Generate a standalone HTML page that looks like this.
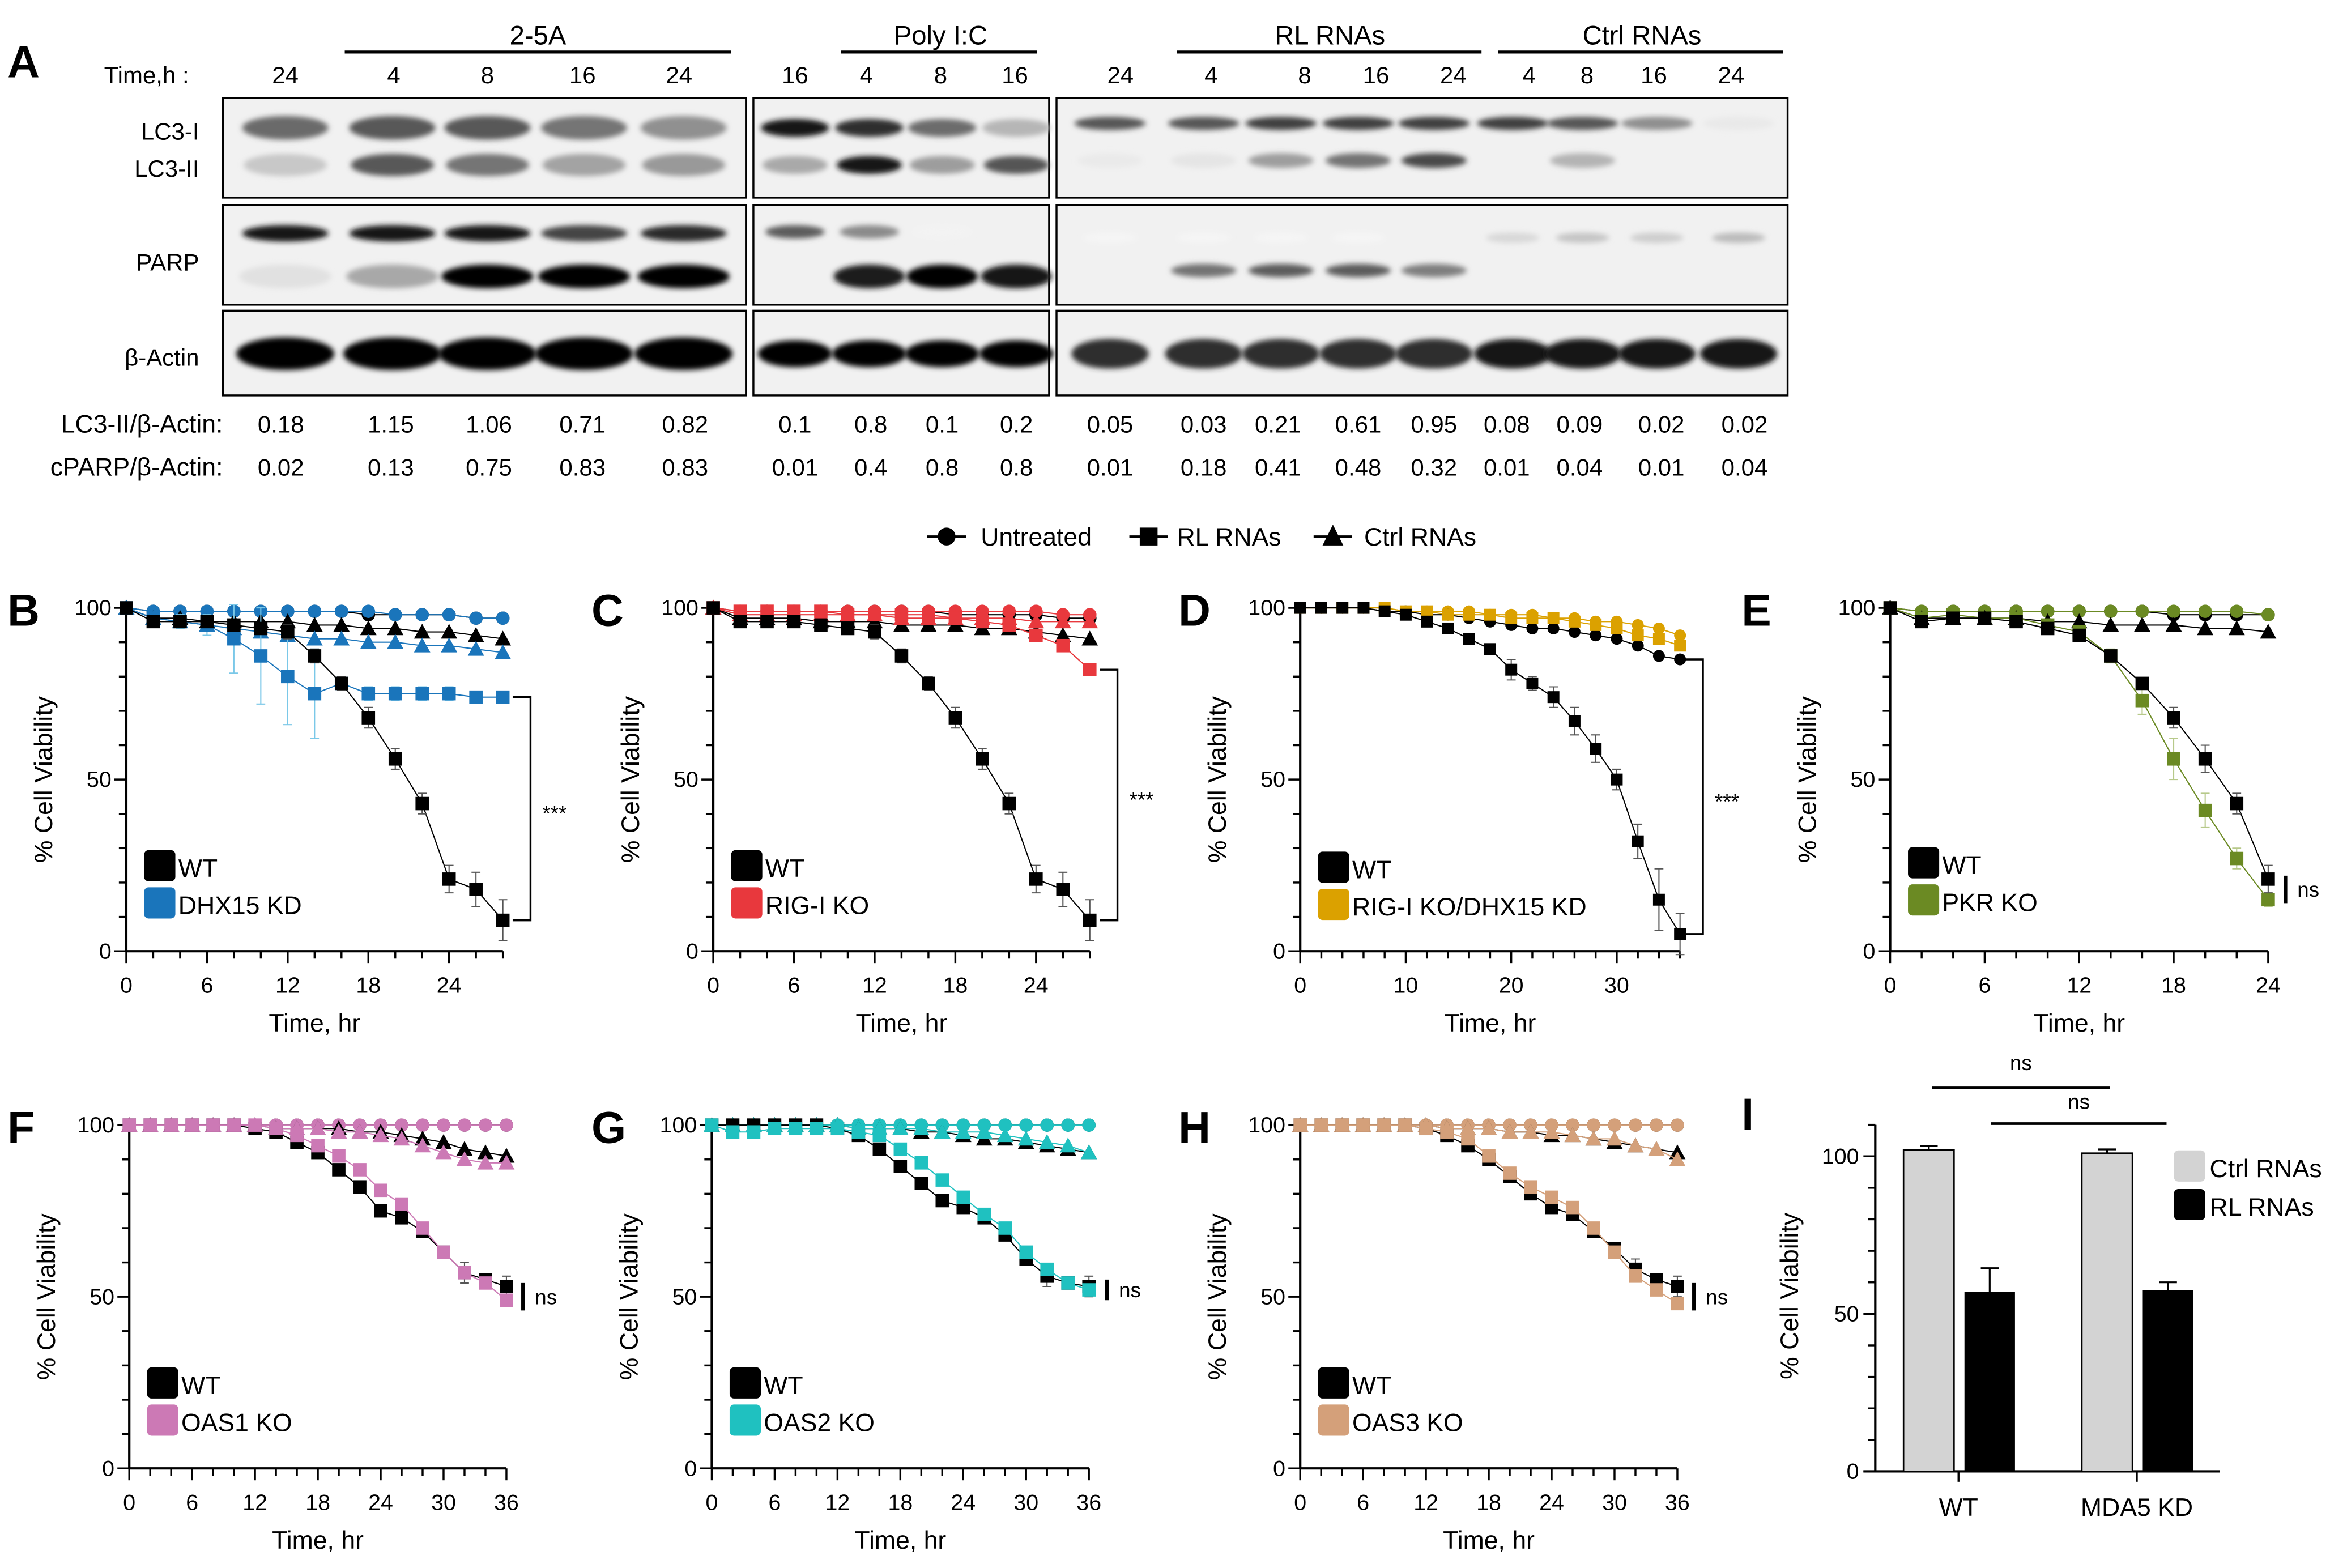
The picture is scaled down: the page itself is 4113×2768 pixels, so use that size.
<!DOCTYPE html>
<html><head><meta charset="utf-8">
<style>
html,body{margin:0;padding:0;background:#fff;}
svg{display:block;font-family:"Liberation Sans",sans-serif;}
</style></head>
<body>
<svg id="fig" width="4113" height="2768" viewBox="0 0 1568 1055" preserveAspectRatio="none" xmlns="http://www.w3.org/2000/svg">
<defs><filter id="blur" x="-20%" y="-60%" width="140%" height="220%"><feGaussianBlur stdDeviation="1.8"/></filter></defs>
</svg>
<script>
// ---------- Blot data ----------
const g1Lanes=["24","4","8","16","24"];
const g2Lanes=["16","4","8","16"];
const g3Lanes=["24","4","8","16","24","4","8","16","24"];
const g1LC3I=[0.8,0.9,0.9,0.75,0.6], g1LC3II=[0.3,0.9,0.75,0.5,0.55], g1PARP=[0.95,0.95,0.95,0.75,0.85], g1cPARP=[0.12,0.35,1,1,1];
const g2LC3I=[0.95,0.85,0.6,0.3], g2LC3II=[0.35,0.95,0.4,0.7], g2PARP=[0.7,0.5,0.05,0], g2cPARP=[0,0.9,1,0.95];
const g3LC3I=[0.75,0.75,0.85,0.85,0.85,0.85,0.75,0.5,0.1], g3LC3II=[0.1,0.12,0.45,0.65,0.85,0,0.35,0,0], g3PARP=[0.05,0.05,0.05,0.05,0,0.2,0.3,0.25,0.35], g3cPARP=[0,0.6,0.7,0.7,0.55,0,0,0,0];
const ratioLC3=["0.18","1.15","1.06","0.71","0.82","0.1","0.8","0.1","0.2","0.05","0.03","0.21","0.61","0.95","0.08","0.09","0.02","0.02"];
const ratioPARP=["0.02","0.13","0.75","0.83","0.83","0.01","0.4","0.8","0.8","0.01","0.18","0.41","0.48","0.32","0.01","0.04","0.01","0.04"];

// ---------- Viability data ----------
const tB=[0,2,4,6,8,10,12,14,16,18,20,22,24,26,28];
const B_wtRL=[100,96,96,96,95,94,93,86,78,68,56,43,21,18,9];
const B_kdRL=[100,97,96,95,91,86,80,75,78,75,75,75,75,74,74];
const B_wtU=[100,99,99,99,99,99,99,99,99,98,98,98,98,97,97];
const B_kdU=[100,99,99,99,99,99,99,99,99,99,98,98,98,97,97];
const B_wtC=[100,97,97,96,96,96,96,95,95,94,94,93,93,92,91];
const B_kdC=[100,97,96,95,94,93,92,91,91,90,90,89,89,88,87];
const C_koRL=[100,99,99,99,99,98,98,98,98,97,96,95,92,89,82];
const C_koU=[100,99,99,99,99,99,99,99,99,99,99,99,99,98,98];
const C_koC=[100,98,98,98,98,98,98,97,97,97,97,97,96,96,96];
const C_wtC=[100,97,97,97,96,96,96,95,95,95,94,94,93,92,91];
const tD=[0,2,4,6,8,10,12,14,16,18,20,22,24,26,28,30,32,34,36];
const D_wtRL=[100,100,100,100,99,98,96,94,91,88,82,78,74,67,59,50,32,15,5];
const D_wtU=[100,100,100,100,99,99,98,98,97,96,95,94,94,93,92,91,89,86,85];
const D_koRL=[100,100,100,100,100,99,99,98,98,98,97,97,97,96,95,94,92,91,89];
const D_koU=[100,100,100,100,100,99,99,99,99,98,98,98,97,97,96,96,95,94,92];
const tE=[0,2,4,6,8,10,12,14,16,18,20,22,24];
const E_wtRL=[100,96,97,97,96,94,92,86,78,68,56,43,21];
const E_koRL=[100,97,98,97,97,95,93,86,73,56,41,27,15];
const E_wtU=[100,99,99,99,99,99,99,99,99,98,98,98,98];
const E_koU=[100,99,99,99,99,99,99,99,99,99,99,99,98];
const E_wtC=[100,97,97,97,97,96,96,95,95,95,94,94,93];
const F_wtRL=[100,100,100,100,100,100,99,98,95,92,87,82,75,73,69,63,57,55,53];
const F_koRL=[100,100,100,100,100,100,100,99,97,94,91,87,81,77,70,63,57,54,49];
const F_U=[100,100,100,100,100,100,100,100,100,100,100,100,100,100,100,100,100,100,100];
const F_wtC=[100,100,100,100,100,100,100,99,99,99,99,98,98,97,96,95,93,92,91];
const F_koC=[100,100,100,100,100,100,100,99,99,99,98,98,97,96,94,92,90,89,89];
const G_wtRL=[100,100,100,100,100,100,99,97,93,88,83,78,76,73,68,61,56,54,53];
const G_koRL=[100,98,98,99,99,99,99,98,97,93,89,84,79,74,70,63,58,54,52];
const G_wtC=[100,100,100,100,100,100,100,99,99,99,98,98,97,96,96,95,94,93,92];
const G_koC=[100,100,100,100,100,100,100,99,99,99,99,98,98,98,97,96,95,94,92];
const H_wtRL=[100,100,100,100,100,100,99,97,94,90,85,80,76,74,69,64,58,55,53];
const H_koRL=[100,100,100,100,100,100,99,98,96,91,86,82,79,76,70,63,56,52,48];
const H_wtC=[100,100,100,100,100,100,100,99,99,99,98,98,97,97,96,95,94,93,92];
const H_koC=[100,100,100,100,100,100,100,99,99,99,98,98,98,97,96,96,94,93,90];

// ---------- Bar data (panel I) ----------
const barGroups=["WT","MDA5 KD"];
const barCtrl=[102,101];
const barRL=[57,57.5];
const barCtrlErr=[1.2,1.2];
const barRLErr=[7.5,2.5];

const NS="http://www.w3.org/2000/svg";
const svg=document.getElementById('fig');
function el(tag,attrs,parent){const e=document.createElementNS(NS,tag);for(const k in attrs)e.setAttribute(k,attrs[k]);(parent||svg).appendChild(e);return e;}
function txt(x,y,s,size,opts,parent){opts=opts||{};const t=el('text',{x:x,y:y,'font-size':size,'text-anchor':opts.anchor||'start','font-weight':opts.bold?'bold':'normal',fill:opts.fill||'#000'},parent);if(opts.rot)t.setAttribute('transform','rotate(-90 '+x+' '+y+')');t.textContent=s;return t;}

// ---------- Panel A ----------
const pa=el('g',{});


let t=txt(5,52,"A",30,{bold:true},pa);

txt(70,56,"Time,h :",16,{},pa);
const g1X=[192,265,328,392,457], g2X=[535,583,633,683], g3X=[754,815,878,926,978,1029,1068,1113,1165];
g1Lanes.forEach((s,i)=>txt(g1X[i],56,s,16,{anchor:'middle'},pa));
g2Lanes.forEach((s,i)=>txt(g2X[i],56,s,16,{anchor:'middle'},pa));
g3Lanes.forEach((s,i)=>txt(g3X[i],56,s,16,{anchor:'middle'},pa));
[["2-5A",362,232,492],["Poly I:C",633,566,698],["RL RNAs",895,792,997],["Ctrl RNAs",1105,1008,1200]].forEach(h=>{
  txt(h[1],30,h[0],18,{anchor:'middle'},pa);
  el('line',{x1:h[2],x2:h[3],y1:35,y2:35,stroke:'#000','stroke-width':2},pa);
});
txt(134,94,"LC3-I",16,{anchor:'end'},pa);
txt(134,119,"LC3-II",16,{anchor:'end'},pa);
txt(134,182,"PARP",16,{anchor:'end'},pa);
txt(134,246,"β-Actin",16,{anchor:'end'},pa);
const boxes=[[150,502],[507,706],[711,1203]];
const rows=[[66,133],[138,205],[209,266]];
boxes.forEach(b=>rows.forEach(r=>{el('rect',{x:b[0],y:r[0],width:b[1]-b[0],height:r[1]-r[0],fill:'#f1f1f1',stroke:'#000','stroke-width':1.3},pa);}));
function bands(xs,vals,y,w,h,dark){xs.forEach((x,i)=>{const v=vals[i];if(v<=0.02)return;
  const g=Math.round(255-(255-dark)*v);
  el('ellipse',{cx:x,cy:y,rx:w/2,ry:h/2,fill:'rgb('+g+','+g+','+g+')',filter:'url(#blur)'},pa);});}
const g1B=[192,264,328,393,460], g2B=[535,585,634,684], g3B=[747,810,862,914,965,1018,1065,1115,1170];
bands(g1B,g1LC3I,86,58,16,70); bands(g1B,g1LC3II,111,56,15,70);
bands(g1B,g1PARP,157,58,11,5); bands(g1B,g1cPARP,186,62,16,5);
bands(g1B,[1,1,1,1,1],238,66,22,5);
bands(g2B,g2LC3I,86,46,12,10); bands(g2B,g2LC3II,111,44,12,10);
bands(g2B,g2PARP,156,40,9,20); bands(g2B,g2cPARP,186,48,16,5);
bands(g2B,[1,1,1,1],238,50,18,5);
bands(g3B,g3LC3I,83,48,9,30); bands(g3B,g3LC3II,108,44,10,40);
bands(g3B,g3PARP,160,36,7,60); bands(g3B,g3cPARP,182,44,9,20);
bands(g3B,[0.85,0.85,0.85,0.85,0.85,0.95,0.95,0.95,0.95],238,52,20,10);
txt(150,291,"LC3-II/β-Actin:",17,{anchor:'end'},pa);
txt(150,320,"cPARP/β-Actin:",17,{anchor:'end'},pa);
const rX=[189,263,329,392,461,535,586,634,684,747,810,860,914,965,1014,1063,1118,1174];
ratioLC3.forEach((s,i)=>txt(rX[i],291,s,16,{anchor:'middle'},pa));
ratioPARP.forEach((s,i)=>txt(rX[i],320,s,16,{anchor:'middle'},pa));

// ---------- Common legend ----------
const lg=el('g',{});


el('line',{x1:624,x2:650,y1:361,y2:361,stroke:'#000','stroke-width':1.5},lg);
el('circle',{cx:637,cy:361,r:6,fill:'#000'},lg);
txt(660,367,"Untreated",17,{},lg);
el('line',{x1:760,x2:786,y1:361,y2:361,stroke:'#000','stroke-width':1.5},lg);
el('rect',{x:767,y:355,width:12,height:12,fill:'#000'},lg);
txt(792,367,"RL RNAs",17,{},lg);
el('line',{x1:884,x2:910,y1:361,y2:361,stroke:'#000','stroke-width':1.5},lg);
el('path',{d:'M897,353 L904,367 L890,367 Z',fill:'#000'},lg);
txt(918,367,"Ctrl RNAs",17,{},lg);

// ---------- Line chart helper ----------
function marker(g,shape,x,y,c,s){
  if(shape==='sq') el('rect',{x:x-s/2,y:y-s/2,width:s,height:s,fill:c},g);
  else if(shape==='ci') el('circle',{cx:x,cy:y,r:s/2,fill:c},g);
  else el('path',{d:'M'+x+','+(y-s/2-1)+' L'+(x+s/2+1)+','+(y+s/2)+' L'+(x-s/2-1)+','+(y+s/2)+' Z',fill:c},g);
}
function chart(o){
  const g=el('g',{});
  
  
  const X=v=>o.x0+v*o.sx, Y=v=>o.yb-(o.yb-o.yt)*v/100;
  const xEnd=X(o.xmax);
  let lt=txt(o.lx,o.yt+12,o.letter,30,{bold:true},g);
  
  el('line',{x1:o.x0,x2:o.x0,y1:o.yt,y2:o.yb,stroke:'#000','stroke-width':1.6},g);
  el('line',{x1:o.x0,x2:xEnd,y1:o.yb,y2:o.yb,stroke:'#000','stroke-width':1.6},g);
  for(let v=0;v<=100;v+=10){const big=v%50===0;el('line',{x1:o.x0-(big?8:5),x2:o.x0,y1:Y(v),y2:Y(v),stroke:'#000','stroke-width':1.3},g);
    if(big)txt(o.x0-10,Y(v)+5,String(v),15,{anchor:'end'},g);}
  for(let v=0;v<=o.xmax+0.01;v+=o.minor){const big=Math.abs(v/o.major-Math.round(v/o.major))<1e-6;
    el('line',{x1:X(v),x2:X(v),y1:o.yb,y2:o.yb+(big?8:5),stroke:'#000','stroke-width':1.3},g);
    if(big && v<=o.labMax)txt(X(v),o.yb+28,String(Math.round(v)),15,{anchor:'middle'},g);}
  const yt=txt(o.x0-50,(o.yt+o.yb)/2,"% Cell Viability",17,{anchor:'middle',rot:true},g);
  
  const xt=txt((o.x0+xEnd)/2,o.yb+54,"Time, hr",17,{anchor:'middle'},g);
  
  o.series.forEach(s=>{
    const sg=el('g',{},g);
    
    
    const pts=o.t.map((tv,i)=>X(tv)+','+Y(s.v[i])).join(' ');
    el('polyline',{points:pts,fill:'none',stroke:s.line||s.c,'stroke-width':0.8},sg);
    if(s.err) o.t.forEach((tv,i)=>{const e=s.err[i];if(!e)return;const x=X(tv);
      el('path',{d:'M'+x+','+Y(s.v[i]+e)+'V'+Y(s.v[i]-e)+'M'+(x-3)+','+Y(s.v[i]+e)+'h6M'+(x-3)+','+Y(s.v[i]-e)+'h6',stroke:s.ec||'#555','stroke-width':0.8,fill:'none'},sg);});
    o.t.forEach((tv,i)=>marker(sg,s.shape,X(tv),Y(s.v[i]),s.c,s.size||9));
  });
  const lgd=el('g',{},g);
  
  
  el('rect',{x:o.x0+12,y:o.legY,width:21,height:21,rx:3,fill:'#000'},lgd);
  txt(o.x0+35,o.legY+18,"WT",17,{},lgd);
  el('rect',{x:o.x0+12,y:o.legY+25,width:21,height:21,rx:3,fill:o.kc},lgd);
  txt(o.x0+35,o.legY+43,o.kname,17,{},lgd);
  if(o.sig){const s=o.sig;
    if(s.type==='br'){el('path',{d:'M'+s.x+','+Y(s.a)+'h12V'+Y(s.b)+'h-12',fill:'none',stroke:'#000','stroke-width':1.3},g);
      txt(s.x+20,(Y(s.a)+Y(s.b))/2+8,"***",14,{},g);}
    else{el('line',{x1:s.x,x2:s.x,y1:Y(s.a),y2:Y(s.b),stroke:'#000','stroke-width':2.5},g);
      txt(s.x+8,(Y(s.a)+Y(s.b))/2+5,"ns",14,{},g);}
  }
}
const eB=tB.map((v,i)=>i>=9?[0,0,0,0,0,0,0,0,0,3,3,3,4,5,6][i]:(i>=6?2:0));
chart({name:'panel-b-dhx15-kd',letter:'B',lx:5,x0:85,sx:9.05,xmax:28,labMax:24,major:6,minor:2,yt:409,yb:640,t:tB,legY:572,kc:'#1a75bb',kname:'DHX15 KD',
 sig:{type:'br',x:345,a:74,b:9},
 series:[{name:'wt-untreated',v:B_wtU,c:'#000',shape:'ci'},{name:'dhx15-untreated',v:B_kdU,c:'#1a75bb',shape:'ci'},
 {name:'wt-ctrl',v:B_wtC,c:'#000',shape:'tr'},{name:'dhx15-ctrl',v:B_kdC,c:'#1a75bb',shape:'tr'},
 {name:'dhx15-rl',v:B_kdRL,c:'#1a75bb',shape:'sq',err:[0,0,2,3,10,14,14,13,2,2,2,2,2,1,1],ec:'#7ac8e8'},
 {name:'wt-rl',v:B_wtRL,c:'#000',shape:'sq',err:eB}]});
chart({name:'panel-c-rig-i-ko',letter:'C',lx:398,x0:480,sx:9.05,xmax:28,labMax:24,major:6,minor:2,yt:409,yb:640,t:tB,legY:572,kc:'#e8383d',kname:'RIG-I KO',
 sig:{type:'br',x:740,a:82,b:9},
 series:[{name:'wt-untreated',v:B_wtU,c:'#000',shape:'ci'},{name:'rigi-untreated',v:C_koU,c:'#e8383d',shape:'ci'},
 {name:'wt-ctrl',v:C_wtC,c:'#000',shape:'tr'},{name:'rigi-ctrl',v:C_koC,c:'#e8383d',shape:'tr'},
 {name:'rigi-rl',v:C_koRL,c:'#e8383d',shape:'sq'},{name:'wt-rl',v:B_wtRL,c:'#000',shape:'sq',err:eB}]});
chart({name:'panel-d-rig-i-ko-dhx15-kd',letter:'D',lx:793,x0:875,sx:7.1,xmax:36,labMax:30,major:10,minor:2,yt:409,yb:640,t:tD,legY:573,kc:'#dba100',kname:'RIG-I KO/DHX15 KD',
 sig:{type:'br',x:1134,a:85,b:5},
 series:[{name:'rk-untreated',v:D_koU,c:'#dba100',shape:'ci',size:8},{name:'wt-untreated',v:D_wtU,c:'#000',shape:'ci',size:8},
 {name:'rk-rl',v:D_koRL,c:'#dba100',shape:'sq',size:8},
 {name:'wt-rl',v:D_wtRL,c:'#000',shape:'sq',size:8,err:[0,0,0,0,0,0,0,0,0,0,3,2,3,4,4,3,5,9,6]}]});
chart({name:'panel-e-pkr-ko',letter:'E',lx:1172,x0:1272,sx:10.6,xmax:24,labMax:24,major:6,minor:2,yt:409,yb:640,t:tE,legY:570,kc:'#6b8a23',kname:'PKR KO',
 sig:{type:'ns',x:1538,a:22,b:14},
 series:[{name:'wt-untreated',v:E_wtU,c:'#000',shape:'ci'},{name:'pkr-untreated',v:E_koU,c:'#6b8a23',shape:'ci'},
 {name:'wt-ctrl',v:E_wtC,c:'#000',shape:'tr'},
 {name:'pkr-rl',v:E_koRL,c:'#6b8a23',shape:'sq',err:[0,0,0,0,0,0,0,2,4,6,5,3,2],ec:'#b7c98a'},
 {name:'wt-rl',v:E_wtRL,c:'#000',shape:'sq',err:[0,0,0,0,0,0,0,0,0,3,4,3,4]}]});
const eF=[0,0,0,0,0,0,0,0,0,0,0,0,0,0,0,0,3,1,3];
chart({name:'panel-f-oas1-ko',letter:'F',lx:5,x0:87,sx:7.05,xmax:36,labMax:36,major:6,minor:2,yt:757,yb:988,t:tD,legY:920,kc:'#cc79b5',kname:'OAS1 KO',
 sig:{type:'ns',x:352,a:54,b:46},
 series:[{name:'wt-untreated',v:F_U,c:'#000',shape:'ci'},{name:'oas1-untreated',v:F_U,c:'#cc79b5',shape:'ci'},
 {name:'wt-ctrl',v:F_wtC,c:'#000',shape:'tr'},{name:'oas1-ctrl',v:F_koC,c:'#cc79b5',shape:'tr'},
 {name:'wt-rl',v:F_wtRL,c:'#000',shape:'sq',err:eF},{name:'oas1-rl',v:F_koRL,c:'#cc79b5',shape:'sq'}]});
chart({name:'panel-g-oas2-ko',letter:'G',lx:398,x0:479,sx:7.05,xmax:36,labMax:36,major:6,minor:2,yt:757,yb:988,t:tD,legY:920,kc:'#1fc1c0',kname:'OAS2 KO',
 sig:{type:'ns',x:745,a:55,b:49},
 series:[{name:'wt-untreated',v:F_U,c:'#000',shape:'ci'},{name:'oas2-untreated',v:F_U,c:'#1fc1c0',shape:'ci'},
 {name:'wt-ctrl',v:G_wtC,c:'#000',shape:'tr'},{name:'oas2-ctrl',v:G_koC,c:'#1fc1c0',shape:'tr'},
 {name:'wt-rl',v:G_wtRL,c:'#000',shape:'sq',err:eF},{name:'oas2-rl',v:G_koRL,c:'#1fc1c0',shape:'sq'}]});
chart({name:'panel-h-oas3-ko',letter:'H',lx:793,x0:875,sx:7.05,xmax:36,labMax:36,major:6,minor:2,yt:757,yb:988,t:tD,legY:920,kc:'#d4a07a',kname:'OAS3 KO',
 sig:{type:'ns',x:1140,a:54,b:46},
 series:[{name:'wt-untreated',v:F_U,c:'#000',shape:'ci'},{name:'oas3-untreated',v:F_U,c:'#d4a07a',shape:'ci'},
 {name:'wt-ctrl',v:H_wtC,c:'#000',shape:'tr'},{name:'oas3-ctrl',v:H_koC,c:'#d4a07a',shape:'tr'},
 {name:'wt-rl',v:H_wtRL,c:'#000',shape:'sq',err:eF},{name:'oas3-rl',v:H_koRL,c:'#d4a07a',shape:'sq'}]});

// ---------- Panel I ----------
(function(){
  const g=el('g',{});
  
  
  const x0=1262,yb=990,yt=778;
  const Y=v=>yb-(yb-yt)*v/100;
  const lt=txt(1172,760,"I",30,{bold:true},g);
  
  el('line',{x1:x0,x2:x0,y1:Y(110),y2:yb,stroke:'#000','stroke-width':1.6},g);
  el('line',{x1:x0-8,x2:1494,y1:yb,y2:yb,stroke:'#000','stroke-width':1.6},g);
  for(let v=0;v<=110;v+=10){const big=v%50===0;el('line',{x1:x0-(big?8:5),x2:x0,y1:Y(v),y2:Y(v),stroke:'#000','stroke-width':1.3},g);
    if(big)txt(x0-11,Y(v)+5,String(v),15,{anchor:'end'},g);}
  const yt2=txt(1210,872,"% Cell Viability",17,{anchor:'middle',rot:true},g);
  
  const gx=[1298,1418];
  barGroups.forEach((name,i)=>{
    const b1=el('rect',{x:gx[i]-17,y:Y(barCtrl[i]),width:34,height:yb-Y(barCtrl[i]),fill:'#d3d3d3',stroke:'#000','stroke-width':1},g);
    
    const b2=el('rect',{x:gx[i]+24,y:Y(barRL[i]),width:34,height:yb-Y(barRL[i]),fill:'#000'},g);
    
    el('path',{d:'M'+gx[i]+','+Y(barCtrl[i])+'V'+Y(barCtrl[i]+barCtrlErr[i])+'m-6,0h12',stroke:'#000',fill:'none','stroke-width':1.2},g);
    el('path',{d:'M'+(gx[i]+41)+','+Y(barRL[i])+'V'+Y(barRL[i]+barRLErr[i])+'m-6,0h12',stroke:'#000',fill:'none','stroke-width':1.2},g);
    el('line',{x1:gx[i]+20,x2:gx[i]+20,y1:yb,y2:yb+7,stroke:'#000','stroke-width':1.3},g);
    txt(gx[i]+20,yb+30,name,17,{anchor:'middle'},g);
  });
  el('line',{x1:1300,x2:1420,y1:732,y2:732,stroke:'#000','stroke-width':1.8},g);
  txt(1360,720,"ns",14,{anchor:'middle'},g);
  el('line',{x1:1340,x2:1458,y1:756,y2:756,stroke:'#000','stroke-width':1.8},g);
  txt(1399,746,"ns",14,{anchor:'middle'},g);
  el('rect',{x:1463,y:774,width:21,height:21,rx:3,fill:'#d3d3d3'},g);
  txt(1487,792,"Ctrl RNAs",17,{},g);
  el('rect',{x:1463,y:800,width:21,height:21,rx:3,fill:'#000'},g);
  txt(1487,818,"RL RNAs",17,{},g);
})();
</script>
</body></html>
